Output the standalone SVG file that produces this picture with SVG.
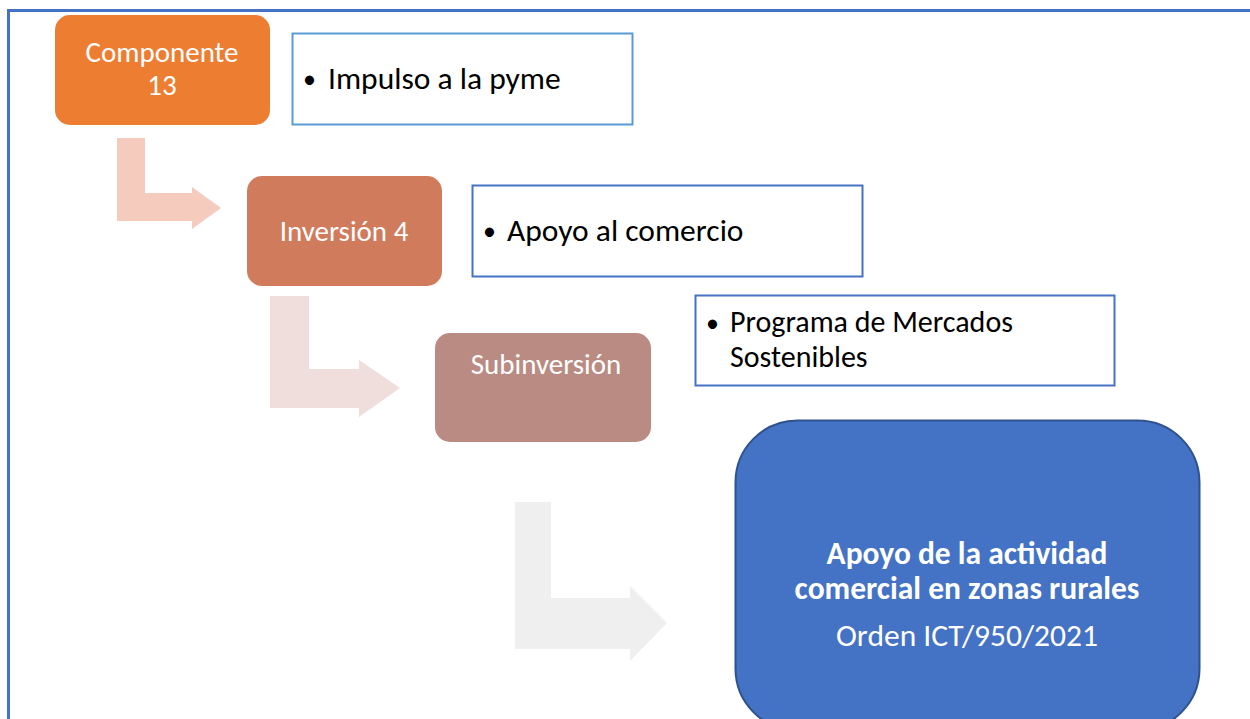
<svg xmlns="http://www.w3.org/2000/svg" width="1250" height="719" viewBox="0 0 1250 719">
<style>
text{font-family:Carlito,"Liberation Sans",Arial,sans-serif;font-size:31.5px}
.w{fill:#fff;text-anchor:middle}
.n{font-size:29px}
.k{fill:#000}
.s{font-size:30px}
.dot{font-size:26px}
.b{font-weight:bold}
.tb{fill:#fff;stroke-width:2}
</style>
<rect x="0" y="0" width="1250" height="719" fill="#fff"/>
<rect x="8.5" y="10.5" width="1260" height="730" fill="none" stroke="#4472C4" stroke-width="3"/>
<g id="connectors">
<path d="M117,138 H145 V193 H192 V187 L221,208 L192,229 V221 H117 Z" fill="#F5CBBE"/>
<path d="M270,296 H309 V369 H359 V360 L400,388 L359,417 V408 H270 Z" fill="#EFDEDC"/>
<path d="M515,502 H551 V598 H630 V586 L667,623 L630,661 V649 H515 Z" fill="#EFEFEF"/>
</g>
<g id="comp13">
<rect x="55" y="15" width="215" height="110" rx="15" fill="#ED7D31"/>
<text class="w n" x="162" y="62">Componente</text>
<text class="w n" x="162" y="95">13</text>
</g>
<g id="box1">
<rect x="292.5" y="33.5" width="340" height="91" class="tb" stroke="#5B9BD5"/>
<text class="k dot" x="303" y="88">•</text>
<text class="k" x="328" y="89">Impulso a la pyme</text>
</g>
<g id="inv4">
<rect x="247" y="176" width="195" height="110" rx="15" fill="#D17B5D"/>
<text class="w n" x="344" y="241">Inversión 4</text>
</g>
<g id="box2">
<rect x="472.5" y="185.5" width="390" height="91" class="tb" stroke="#4472C4"/>
<text class="k dot" x="483" y="240">•</text>
<text class="k" x="507" y="241">Apoyo al comercio</text>
</g>
<g id="subinv">
<rect x="435" y="333" width="216" height="109" rx="15" fill="#B98B82"/>
<text class="w n" x="546" y="374">Subinversión</text>
</g>
<g id="box3">
<rect x="695.5" y="295.5" width="419" height="90" class="tb" stroke="#4472C4"/>
<text class="k dot" x="706" y="332">•</text>
<text class="k s" x="730" y="332">Programa de Mercados</text>
<text class="k s" x="730" y="367">Sostenibles</text>
</g>
<g id="final">
<rect x="735.5" y="420.5" width="464" height="310" rx="62" fill="#4472C4" stroke="#2F528F" stroke-width="2"/>
<text class="w b" x="967" y="564">Apoyo de la actividad</text>
<text class="w b" x="967" y="599">comercial en zonas rurales</text>
<text class="w" x="967" y="646">Orden ICT/950/2021</text>
</g>
</svg>
